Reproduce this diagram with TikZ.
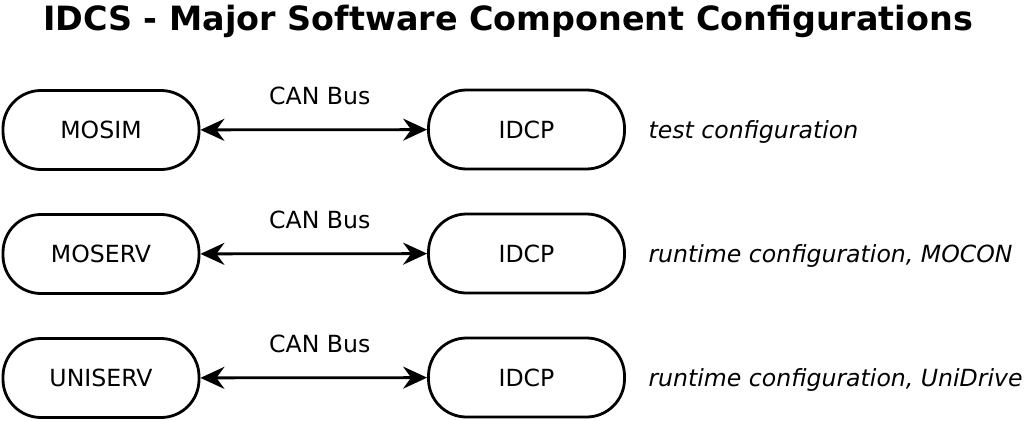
\documentclass[tikz,border=0pt]{standalone}
\usepackage{fontspec}
\setmainfont{DejaVu Sans}
\usetikzlibrary{arrows.meta}

\tikzset{
    comp/.style={draw, line width=2.8pt, rounded corners=38pt, minimum width=196pt, minimum height=79pt, font=\fontsize{23.6}{28}\selectfont},
    bus/.style={arrows={Stealth[length=24pt, width=22pt, inset=8pt]-Stealth[length=24pt, width=22pt, inset=8pt]}, line width=2.8pt},
    lbl/.style={font=\fontsize{23.6}{28}\selectfont},
    cfg/.style={anchor=west, font=\fontsize{23.6}{28}\selectfont\itshape}
}

\begin{document}
\begin{tikzpicture}[x=1pt, y=-1pt]
    \useasboundingbox (0, 0) rectangle (1024, 420);
    \node[font=\fontsize{33.4}{40}\selectfont\bfseries] (title) at (508, 21) {IDCS - Major Software Component Configurations};

    \node[comp] (mosim) at (101, 130) {MOSIM};
    \node[comp] (idcp1) at (526.5, 129.5) {IDCP};
    \draw[bus] (mosim) -- (idcp1) node[lbl, midway, xshift=6pt, yshift=34pt] (bus1) {CAN Bus};
    \node[cfg] (cfg1) at (645, 132) {test configuration};

    \node[comp] (moserv) at (101, 254) {MOSERV};
    \node[comp] (idcp2) at (526.5, 253.5) {IDCP};
    \draw[bus] (moserv) -- (idcp2) node[lbl, midway, xshift=6pt, yshift=34pt] (bus2) {CAN Bus};
    \node[cfg] (cfg2) at (645, 256) {runtime configuration, MOCON};

    \node[comp] (uniserv) at (101, 378) {UNISERV};
    \node[comp] (idcp3) at (526.5, 377.5) {IDCP};
    \draw[bus] (uniserv) -- (idcp3) node[lbl, midway, xshift=6pt, yshift=34pt] (bus3) {CAN Bus};
    \node[cfg] (cfg3) at (645, 380) {runtime configuration, UniDrive};
\end{tikzpicture}
\end{document}
